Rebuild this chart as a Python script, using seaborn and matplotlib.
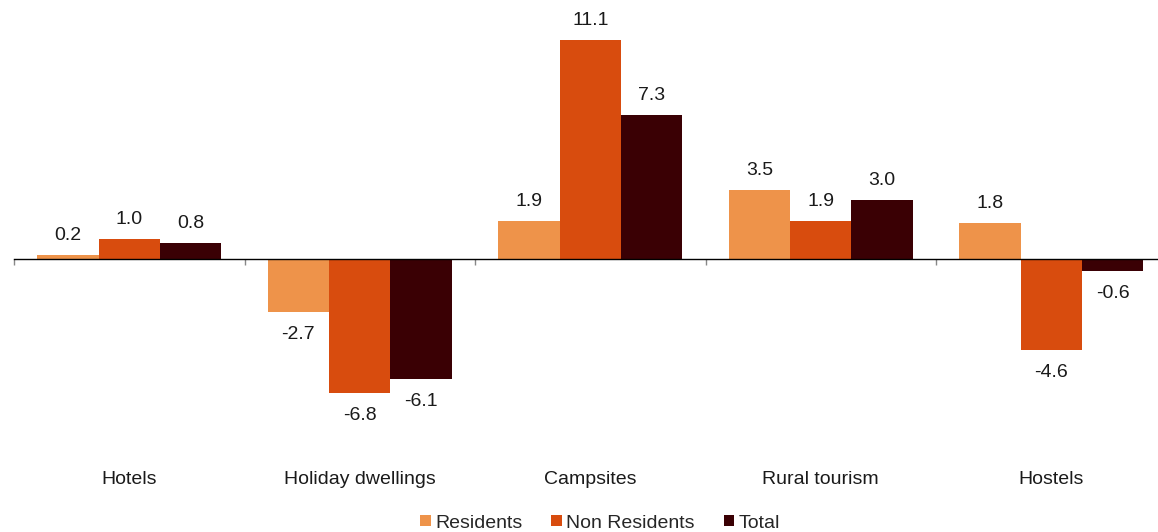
import numpy as np
import pandas as pd
import matplotlib.pyplot as plt
import matplotlib.transforms as mtransforms
from matplotlib.patches import Patch
import seaborn as sns

# chart data
categories = ["Hotels", "Holiday dwellings", "Campsites", "Rural tourism", "Hostels"]
series = ["Residents", "Non Residents", "Total"]
residents = [0.2, -2.7, 1.9, 3.5, 1.8]
non_residents = [1.0, -6.8, 11.1, 1.9, -4.6]
total = [0.8, -6.1, 7.3, 3.0, -0.6]

palette = ["#EE934A", "#D84C0E", "#3A0004"]

sns.set_theme(style="white")
plt.rcParams["font.family"] = ["Liberation Sans", "DejaVu Sans"]

df = pd.DataFrame(
    {
        "category": categories * 3,
        "series": [s for s in series for _ in categories],
        "value": residents + non_residents + total,
    }
)

fig = plt.figure(figsize=(11.58, 5.32), dpi=100)
# axes run past the right edge, like the original
ax = fig.add_axes([14 / 1158, 1 - 460 / 532, 1152.5 / 1158, 450 / 532])

sns.barplot(
    data=df,
    x="category",
    y="value",
    hue="series",
    hue_order=series,
    order=categories,
    palette=palette,
    width=0.8,
    saturation=1,
    errorbar=None,
    legend=False,
    linewidth=0,
    ax=ax,
)

ax.set_xlim(-0.5, len(categories) - 0.5)
ax.set_ylim(-10.19, 12.62)

# value labels
for cont in ax.containers:
    for bar in cont:
        h = bar.get_height()
        x = bar.get_x() + bar.get_width() / 2
        off = 8 if h >= 0 else -10
        ax.annotate(
            f"{h:.1f}",
            (x, h),
            xytext=(0, off),
            textcoords="offset points",
            ha="center",
            va="bottom" if h >= 0 else "top",
            fontsize=14,
            color="#1a1a1a",
        )

# axis styling
for side in ["top", "right", "left"]:
    ax.spines[side].set_visible(False)
ax.spines["bottom"].set_position(("data", 0))
ax.spines["bottom"].set_color("black")
ax.spines["bottom"].set_linewidth(1)
ax.set_yticks([])
ax.set_xticks([])
ax.set_xticks(np.arange(-0.5, len(categories)), minor=True)
ax.tick_params(axis="x", which="minor", direction="out", length=4, color="#888888", bottom=True)
ax.set_xlabel("")
ax.set_ylabel("")

# category labels below the chart
trans = mtransforms.blended_transform_factory(ax.transData, fig.transFigure)
for i, cat in enumerate(categories):
    ax.text(i, 1 - 479 / 532, cat, transform=trans, ha="center", va="center", fontsize=14, color="#1a1a1a")

handles = [Patch(facecolor=c, edgecolor="none") for c in palette]
fig.legend(
    handles,
    series,
    loc="center",
    bbox_to_anchor=(600 / 1158, 1 - 523 / 532),
    ncol=3,
    frameon=False,
    fontsize=14,
    handlelength=0.55,
    handleheight=0.55,
    handletextpad=0.2,
    columnspacing=1.5,
    borderpad=0,
)

fig.savefig("out.png", dpi=100)
